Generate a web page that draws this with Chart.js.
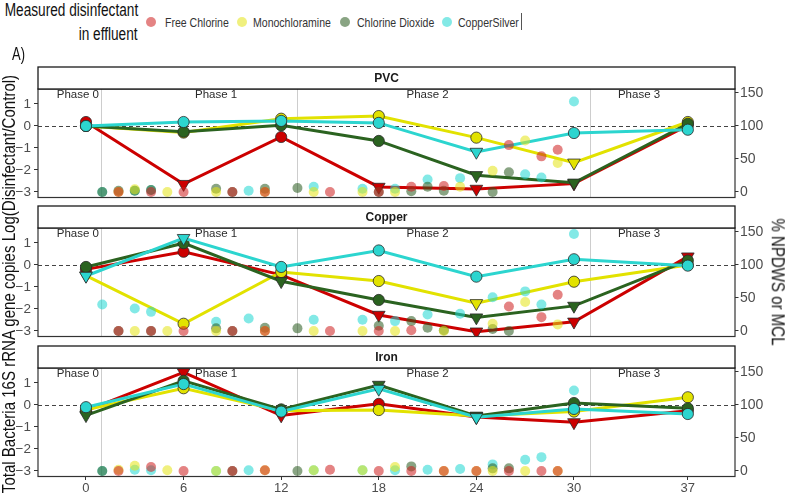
<!DOCTYPE html>
<html><head><meta charset="utf-8">
<script src="https://cdn.jsdelivr.net/npm/chart.js@4.4.0/dist/chart.umd.min.js"></script>
<style>
html,body{margin:0;padding:0;background:#fff;}
#wrap{position:relative;width:791px;height:499px;overflow:hidden;font-family:"Liberation Sans",Arial,sans-serif;background:#fff;}
canvas{position:absolute;left:0;}
.t{position:absolute;white-space:nowrap;line-height:1;color:#111;}
.dot{position:absolute;width:10px;height:10px;border-radius:50%;}
</style></head><body><div id="wrap">
<canvas id="c1" width="791" height="155" style="top:60px"></canvas>
<canvas id="c2" width="791" height="155" style="top:200px"></canvas>
<canvas id="c3" width="791" height="159" style="top:340px"></canvas>

<div class="t" style="right:653px;top:2px;font-size:17.5px;transform:scaleX(0.78);transform-origin:100% 0;">Measured disinfectant</div>
<div class="t" style="right:653px;top:25.5px;font-size:17.5px;transform:scaleX(0.78);transform-origin:100% 0;">in effluent</div>
<div class="dot" style="left:146px;top:17px;background:rgba(205,30,30,0.55)"></div>
<div class="t" style="left:165px;top:16px;font-size:13.5px;color:#333;transform:scaleX(0.78);transform-origin:0 0;">Free Chlorine</div>
<div class="dot" style="left:237px;top:17px;background:rgba(228,228,20,0.55)"></div>
<div class="t" style="left:253px;top:16px;font-size:13.5px;color:#333;transform:scaleX(0.78);transform-origin:0 0;">Monochloramine</div>
<div class="dot" style="left:340px;top:17px;background:rgba(40,90,30,0.55)"></div>
<div class="t" style="left:357px;top:16px;font-size:13.5px;color:#333;transform:scaleX(0.78);transform-origin:0 0;">Chlorine Dioxide</div>
<div class="dot" style="left:442px;top:17px;background:rgba(30,215,210,0.55)"></div>
<div class="t" style="left:458px;top:16px;font-size:13.5px;color:#333;transform:scaleX(0.78);transform-origin:0 0;">CopperSilver</div>
<div style="position:absolute;left:521px;top:13px;width:1px;height:17px;background:#555"></div>
<div class="t" style="left:12px;top:45px;font-size:18px;transform:scaleX(0.72);transform-origin:0 0;">A)</div>
<div class="t" style="left:10px;top:284px;font-size:17.5px;transform:translate(-50%,-50%) rotate(-90deg) scaleX(0.86);">Total Bacteria 16S rRNA gene copies Log(Disinfectant/Control)</div>
<div class="t" style="left:777px;top:282px;font-size:17.5px;transform:translate(-50%,-50%) rotate(90deg) scaleX(0.86);">% NPDWS or MCL</div>
</div>
<script>
// ---------- DATA ----------
const days = [0, 6, 12, 18, 24, 30, 37];
const logTicks = [-3, -2, -1, 0, 1];
const pctTicks = [0, 50, 100, 150];
const phaseBounds = [0.92, 12.97, 30.98];
const phaseNames = ['Phase 0', 'Phase 1', 'Phase 2', 'Phase 3'];
const phaseLabelAt = [-0.5, 8, 21, 34];
const seriesNames = ['Free Chlorine', 'Monochloramine', 'Chlorine Dioxide', 'CopperSilver'];

// PVC: log(disinfectant/control), marker shape c=circle t=triangle
const pvcFree = [0.18, -2.64, -0.5, -2.77, -2.86, -2.62, 0.03];
const pvcFreeShape = ['c','t','c','t','t','t','c'];
const pvcMono = [0, -0.3, 0.33, 0.45, -0.53, -1.67, 0.18];
const pvcMonoShape = ['c','c','c','c','c','t','c'];
const pvcDiox = [0, -0.26, 0.03, -0.68, -2.24, -2.58, 0.1];
const pvcDioxShape = ['c','c','c','c','t','t','c'];
const pvcCuAg = [0, 0.18, 0.23, 0.14, -1.18, -0.32, -0.17];
const pvcCuAgShape = ['c','c','c','c','t','c','c'];

// Copper
const cuFree = [-0.2, 0.6, -0.45, -2.27, -3.03, -2.58, 0.38];
const cuFreeShape = ['c','c','c','t','t','t','t'];
const cuMono = [-0.48, -2.67, -0.32, -0.73, -1.74, -0.76, 0.0];
const cuMonoShape = ['t','c','c','c','t','c','c'];
const cuDiox = [-0.09, 0.99, -0.74, -1.59, -2.39, -1.86, 0.2];
const cuDioxShape = ['c','c','t','c','t','t','c'];
const cuCuAg = [-0.5, 1.22, -0.09, 0.66, -0.53, 0.26, -0.03];
const cuCuAgShape = ['t','t','c','c','c','c','c'];

// Iron
const feFree = [-0.26, 1.48, -0.48, 0.05, -0.55, -0.79, -0.26];
const feFreeShape = ['c','t','t','c','t','t','c'];
const feMono = [-0.22, 0.76, -0.26, -0.23, -0.5, -0.3, 0.35];
const feMonoShape = ['c','c','c','c','t','c','c'];
const feDiox = [-0.47, 1.1, -0.2, 0.91, -0.5, 0.09, -0.15];
const feDioxShape = ['t','c','c','t','t','c','c'];
const feCuAg = [-0.1, 0.95, -0.3, 0.73, -0.56, -0.18, -0.41];
const feCuAgShape = ['c','c','c','t','t','c','c'];

// % NPDWS or MCL measured in effluent (scatter)
const pvcFreeDays = [2, 4, 6, 9, 11, 15, 18, 20, 22, 26, 28, 29];
const pvcFreePct  = [0, 0, 0, 0, 0, 0, 0, 8, 9, 71, 54, 64];
const pvcMonoDays = [2, 3, 5, 8, 11, 14, 17, 19, 23, 25, 27, 29];
const pvcMonoPct  = [0, 4, 0, 0, 0, 0, 0, 0, 8, 32, 78, 44];
const pvcDioxDays = [1, 2, 3, 4, 8, 9, 11, 13, 18, 20, 21, 22, 25, 26];
const pvcDioxPct  = [0, 2, 2, 3, 5, 0, 5, 6, 0, 1, 8, 2, 0, 30];
const pvcCuAgDays = [1, 3, 4, 10, 14, 17, 19, 21, 23, 27, 28, 30];
const pvcCuAgPct  = [0, 2, 3, 2, 8, 5, 5, 19, 21, 27, 22, 137];

const cuFreeDays = [2, 4, 6, 9, 11, 15, 18, 20, 26, 28, 29];
const cuFreePct  = [0, 0, 0, 0, 0, 0, 0, 1, 37, 21, 55];
const cuMonoDays = [3, 5, 8, 11, 14, 17, 19, 22, 25, 27, 29];
const cuMonoPct  = [0, 0, 0, 0, 0, 0, 0, 0, 11, 44, 10];
const cuDioxDays = [2, 4, 8, 9, 11, 13, 18, 20, 21, 22, 25, 26];
const cuDioxPct  = [0, 0, 4, 0, 5, 4, 8, 15, 5, 1, 3, 0];
const cuCuAgDays = [1, 3, 4, 8, 10, 14, 17, 19, 21, 23, 25, 27, 28, 30];
const cuCuAgPct  = [40, 34, 29, 14, 19, 17, 17, 15, 25, 26, 51, 60, 40, 147];

const feFreeDays = [2, 4, 6, 9, 11, 15, 18, 20, 22, 24, 26, 28, 29];
const feFreePct  = [0, 6, 0, 0, 1, 2, 0, 0, 0, 0, 0, 0, 0];
const feMonoDays = [2, 3, 5, 8, 11, 14, 17, 19, 22, 24, 25, 27, 29];
const feMonoPct  = [2, 8, 1, 0, 1, 1, 1, 6, 0, 0, 0, 0, 0];
const feDioxDays = [1, 9, 13, 20, 25, 26];
const feDioxPct  = [0, 0, 0, 7, 4, 4];
const feCuAgDays = [1, 3, 4, 8, 10, 14, 17, 19, 21, 23, 25, 27, 28, 30];
const feCuAgPct  = [0, 2, 1, 0, 1, 1, 1, 1, 2, 3, 10, 17, 21, 122];

// ---------- STYLE ----------
const lineColors = ['#cc0000', '#e2e200', '#2b6320', '#2cd5cf'];
const dotColors = ['rgba(205,30,30,0.55)', 'rgba(228,228,20,0.55)', 'rgba(40,90,30,0.55)', 'rgba(30,215,210,0.55)'];
const xMin = -2.95, xMax = 39.9;
const yMin = -3.25, yMax = 1.68;
const toPct = v => v / 0.03 + 100;

Chart.defaults.font.family = '"Liberation Sans", Arial, sans-serif';

const panelDecor = {
  id: 'panelDecor',
  beforeDatasetsDraw(chart, args, opts) {
    const {ctx, chartArea: a, scales} = chart;
    ctx.save();
    ctx.strokeStyle = '#cdcdcd'; ctx.lineWidth = 1;
    phaseBounds.forEach(d => {
      const x = Math.round(scales.x.getPixelForValue(d)) + 0.5;
      ctx.beginPath(); ctx.moveTo(x, a.top); ctx.lineTo(x, a.bottom); ctx.stroke();
    });
    const y0 = Math.round(scales.y.getPixelForValue(0)) + 0.5;
    ctx.setLineDash([4, 3]); ctx.strokeStyle = '#444';
    ctx.beginPath(); ctx.moveTo(a.left, y0); ctx.lineTo(a.right, y0); ctx.stroke();
    ctx.setLineDash([]);
    ctx.fillStyle = '#2a2a2a'; ctx.font = '11.5px "Liberation Sans", Arial'; ctx.textAlign = 'center'; ctx.textBaseline = 'middle';
    phaseNames.forEach((n, i) => ctx.fillText(n, scales.x.getPixelForValue(phaseLabelAt[i]), a.top + 6));
    ctx.restore();
  },
  afterDraw(chart, args, opts) {
    const {ctx, chartArea: a} = chart;
    ctx.save();
    ctx.strokeStyle = '#333'; ctx.lineWidth = 1.2;
    ctx.strokeRect(a.left, a.top, a.right - a.left, a.bottom - a.top);
    ctx.fillStyle = '#fff'; ctx.strokeStyle = '#1a1a1a'; ctx.lineWidth = 1.3;
    ctx.fillRect(a.left, a.top - 22, a.right - a.left, 22);
    ctx.strokeRect(a.left, a.top - 22, a.right - a.left, 22);
    ctx.fillStyle = '#1a1a1a'; ctx.font = 'bold 12px "Liberation Sans", Arial';
    ctx.textAlign = 'center'; ctx.textBaseline = 'middle';
    ctx.fillText(opts.title, (a.left + a.right) / 2, a.top - 10.5);
    ctx.restore();
  }
};

function lineDs(i, vals, shapes) {
  return {
    type: 'scatter', label: seriesNames[i], showLine: true, order: 4 - i,
    data: days.map((d, k) => ({x: d, y: vals[k]})),
    borderColor: lineColors[i], borderWidth: 3, tension: 0,
    pointBackgroundColor: lineColors[i], pointBorderColor: '#2a2a2a', pointBorderWidth: 0.8,
    pointStyle: shapes.map(s => s === 't' ? 'triangle' : 'circle'),
    pointRotation: shapes.map(s => s === 't' ? 180 : 0),
    pointRadius: shapes.map(s => s === 't' ? 7.3 : 5.6),
    yAxisID: 'y', xAxisID: 'x'
  };
}
function dotDs(i, ds, ps) {
  return {
    type: 'scatter', label: seriesNames[i] + ' effluent', order: 0,
    data: ds.map((d, k) => ({x: d, y: ps[k]})),
    backgroundColor: dotColors[i], borderWidth: 0, pointRadius: 5,
    yAxisID: 'y2', xAxisID: 'x'
  };
}

function makePanel(id, title, lines, dots, showX, padTop, padBottom) {
  const datasets = [];
  dots.forEach((p, i) => datasets.push(dotDs(i, p[0], p[1])));
  lines.forEach((l, i) => datasets.push(lineDs(i, l[0], l[1])));
  new Chart(document.getElementById(id), {
    type: 'scatter',
    data: {datasets},
    options: {
      responsive: false, animation: false, devicePixelRatio: 1,
      layout: {padding: {top: padTop, bottom: padBottom, left: 0, right: 0}},
      plugins: {legend: {display: false}, tooltip: {enabled: false}, panelDecor: {title}},
      scales: {
        x: {
          type: 'linear', min: xMin, max: xMax, display: showX,
          afterBuildTicks: s => { s.ticks = days.map(v => ({value: v})); },
          afterFit: s => { if (showX) s.height = 22.5; },
          grid: {drawOnChartArea: false, drawTicks: true, tickLength: 3.5, color: '#333'},
          border: {display: false},
          ticks: {color: '#4d4d4d', font: {size: 13}, padding: 1, maxRotation: 0, autoSkip: false}
        },
        y: {
          position: 'left', min: yMin, max: yMax,
          afterBuildTicks: s => { s.ticks = logTicks.map(v => ({value: v})); },
          afterFit: s => { s.width = 38; },
          grid: {drawOnChartArea: false, tickLength: 4, color: '#333'},
          border: {display: false},
          ticks: {color: '#4d4d4d', font: {size: 13.5}, padding: 3, autoSkip: false,
                  callback: v => String(v).replace('-', '\u2212')}
        },
        y2: {
          position: 'right', min: toPct(yMin), max: toPct(yMax),
          afterBuildTicks: s => { s.ticks = pctTicks.map(v => ({value: v})); },
          afterFit: s => { s.width = 56; },
          grid: {drawOnChartArea: false, tickLength: 3.5, color: '#333'},
          border: {display: false},
          ticks: {color: '#4d4d4d', font: {size: 14}, padding: 1.5, autoSkip: false}
        }
      }
    },
    plugins: [panelDecor]
  });
}

makePanel('c1', 'PVC',
  [[pvcFree, pvcFreeShape], [pvcMono, pvcMonoShape], [pvcDiox, pvcDioxShape], [pvcCuAg, pvcCuAgShape]],
  [[pvcFreeDays, pvcFreePct], [pvcMonoDays, pvcMonoPct], [pvcDioxDays, pvcDioxPct], [pvcCuAgDays, pvcCuAgPct]],
  false, 29, 17.5);
makePanel('c2', 'Copper',
  [[cuFree, cuFreeShape], [cuMono, cuMonoShape], [cuDiox, cuDioxShape], [cuCuAg, cuCuAgShape]],
  [[cuFreeDays, cuFreePct], [cuMonoDays, cuMonoPct], [cuDioxDays, cuDioxPct], [cuCuAgDays, cuCuAgPct]],
  false, 28, 18.5);
makePanel('c3', 'Iron',
  [[feFree, feFreeShape], [feMono, feMonoShape], [feDiox, feDioxShape], [feCuAg, feCuAgShape]],
  [[feFreeDays, feFreePct], [feMonoDays, feMonoPct], [feDioxDays, feDioxPct], [feCuAgDays, feCuAgPct]],
  true, 28, 0);
</script>
</body></html>
